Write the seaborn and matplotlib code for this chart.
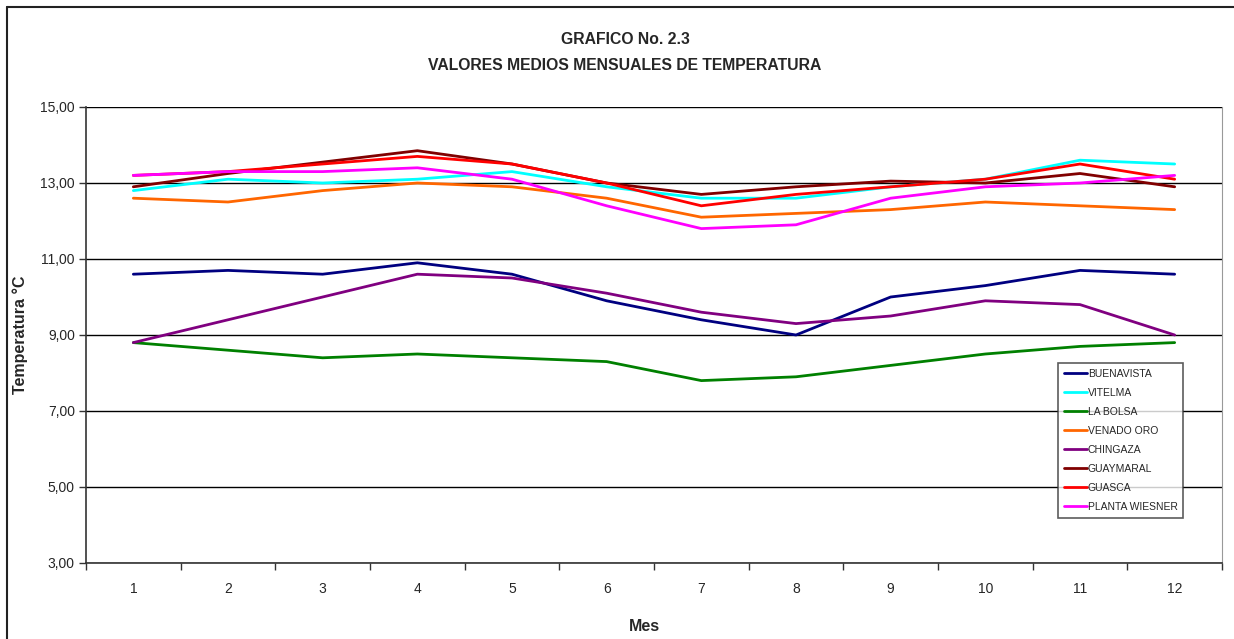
import pandas as pd
import matplotlib
matplotlib.use('Agg')
import matplotlib.pyplot as plt
import seaborn as sns
from matplotlib.ticker import FuncFormatter, FixedLocator
from matplotlib.lines import Line2D

sns.set_style('white')
plt.rcParams['font.family'] = ['Liberation Sans', 'DejaVu Sans']

months = list(range(1, 13))
stations = ['BUENAVISTA', 'VITELMA', 'LA BOLSA', 'VENADO ORO',
            'CHINGAZA', 'GUAYMARAL', 'GUASCA', 'PLANTA WIESNER']
buenavista = [10.6, 10.7, 10.6, 10.9, 10.6, 9.9, 9.4, 9.0, 10.0, 10.3, 10.7, 10.6]
vitelma = [12.8, 13.1, 13.0, 13.1, 13.3, 12.9, 12.6, 12.6, 12.9, 13.1, 13.6, 13.5]
la_bolsa = [8.8, 8.6, 8.4, 8.5, 8.4, 8.3, 7.8, 7.9, 8.2, 8.5, 8.7, 8.8]
venado_oro = [12.6, 12.5, 12.8, 13.0, 12.9, 12.6, 12.1, 12.2, 12.3, 12.5, 12.4, 12.3]
chingaza = [8.8, 9.4, 10.0, 10.6, 10.5, 10.1, 9.6, 9.3, 9.5, 9.9, 9.8, 9.0]
guaymaral = [12.9, 13.25, 13.55, 13.85, 13.5, 13.0, 12.7, 12.9, 13.05, 13.0, 13.25, 12.9]
guasca = [13.2, 13.3, 13.5, 13.7, 13.5, 13.0, 12.4, 12.7, 12.9, 13.1, 13.5, 13.1]
planta_wiesner = [13.2, 13.3, 13.3, 13.4, 13.1, 12.4, 11.8, 11.9, 12.6, 12.9, 13.0, 13.2]
colors = ['#000080', '#00FFFF', '#008000', '#FF6600',
          '#800080', '#800000', '#FF0000', '#FF00FF']

series = [buenavista, vitelma, la_bolsa, venado_oro,
          chingaza, guaymaral, guasca, planta_wiesner]
df = pd.DataFrame([(s, m, v) for s, vals in zip(stations, series)
                   for m, v in zip(months, vals)],
                  columns=['Estacion', 'Mes', 'Temp'])

fig = plt.figure(figsize=(12.34, 6.39), dpi=100)
ax = fig.add_axes([86/1234, 76/639, 1136/1234, 456/639])

sns.lineplot(data=df, x='Mes', y='Temp', hue='Estacion', hue_order=stations,
             palette=dict(zip(stations, colors)), linewidth=2, ax=ax)

ax.set_xlim(0.5, 12.5)
ax.set_ylim(3, 15)
ax.set_yticks([3, 5, 7, 9, 11, 13, 15])
ax.yaxis.set_major_formatter(FuncFormatter(lambda v, p: f'{v:.2f}'.replace('.', ',')))
ax.set_xticks(months)
ax.xaxis.set_minor_locator(FixedLocator([m + 0.5 for m in range(0, 13)]))
ax.tick_params(axis='x', which='major', length=0, pad=14, labelsize=10)
ax.tick_params(axis='x', which='minor', length=5, width=1, color='#333333', direction='out', bottom=True)
ax.tick_params(axis='y', length=5, width=1, color='#333333', direction='out', left=True,
               labelsize=10, pad=3)
ax.grid(axis='y', color='black', linewidth=1)
ax.set_axisbelow(True)

for side in ['left', 'bottom']:
    ax.spines[side].set_color('#333333')
    ax.spines[side].set_linewidth(1.2)
ax.spines['right'].set_color('#999999')
ax.spines['top'].set_visible(False)

ax.set_xlabel('Mes', fontsize=11.5, fontweight='bold')
ax.xaxis.set_label_coords(0.492, -0.123)
ax.set_ylabel('Temperatura °C', fontsize=11.5, fontweight='bold')
ax.yaxis.set_label_coords(-0.051, 0.5)

leg = ax.legend(loc='upper right', bbox_to_anchor=(0.966, 0.439), fontsize=7.5,
                frameon=True, fancybox=False, borderaxespad=0, handlelength=2.2,
                labelspacing=0.87, handletextpad=0.1, borderpad=0.55)
leg.get_frame().set_edgecolor('#333333')
leg.get_frame().set_linewidth(1.2)

fig.text(625/1234, 1 - 40/639, 'GRAFICO No. 2.3', ha='center', va='center',
         fontsize=11.3, fontweight='bold')
fig.text(625/1234, 1 - 66/639, 'VALORES MEDIOS MENSUALES DE TEMPERATURA',
         ha='center', va='center', fontsize=11.3, fontweight='bold')

# marco exterior
fig.add_artist(Line2D([7/1234, 7/1234], [0, 1 - 7/639], color='#222222', lw=1.5))
fig.add_artist(Line2D([7/1234, 1], [1 - 7/639, 1 - 7/639], color='#222222', lw=1.5))

fig.savefig('out.png', dpi=100)
